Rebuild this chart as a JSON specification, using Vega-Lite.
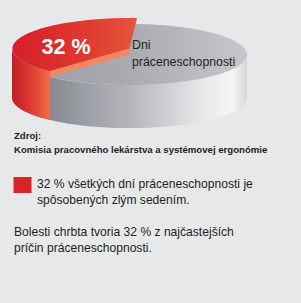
{
  "$schema": "https://vega.github.io/schema/vega-lite/v6.json",
  "width": 301,
  "height": 303,
  "padding": 0,
  "autosize": {"type": "none"},
  "background": "#e7e8e9",
  "config": {"view": {"stroke": null}, "text": {"font": "Liberation Sans, Arial, sans-serif", "align": "left", "baseline": "alphabetic", "color": "#231f20"}},
  "datasets": {
    "pie": [
      {"segment": "zlé sedenie", "share": 32, "label": "32 %"},
      {"segment": "ostatné", "share": 68, "label": "Dni práceneschopnosti"}
    ]
  },
  "layer": [
    {
      "data": {"name": "pie"},
      "transform": [{"filter": "datum.share == 68"}],
      "mark": {"type": "point", "filled": true, "opacity": 1, "strokeWidth": 0, "size": 55225,
        "shape": "M-1,0 A1,0.26 0 0 0 1,0 L1,0.366 A1,0.26 0 0 1 -1,0.366 Z",
        "fill": {"gradient": "linear", "x1": 0, "y1": 0, "x2": 1, "y2": 0,
          "stops": [{"offset": 0, "color": "#7d8088"}, {"offset": 0.16, "color": "#878a92"}, {"offset": 0.5, "color": "#b4b6bb"}, {"offset": 0.82, "color": "#e9e9eb"}, {"offset": 0.94, "color": "#f5f5f5"}, {"offset": 1, "color": "#d6d7d9"}]}},
      "encoding": {
        "x": {"datum": 129.5, "type": "quantitative", "scale": {"domain": [0, 301], "nice": false, "zero": false}, "axis": null},
        "y": {"datum": 54.5, "type": "quantitative", "scale": {"domain": [0, 303], "nice": false, "zero": false, "reverse": true}, "axis": null}
      }
    },
    {
      "data": {"name": "pie"},
      "transform": [{"filter": "datum.share == 68"}],
      "mark": {"type": "point", "filled": true, "opacity": 1, "strokeWidth": 0, "size": 55225,
        "shape": "M-1,0 A1,0.26 0 1 0 1,0 A1,0.26 0 1 0 -1,0 Z",
        "fill": {"gradient": "linear", "x1": 0, "y1": 0, "x2": 1, "y2": 0,
          "stops": [{"offset": 0, "color": "#9a9ca3"}, {"offset": 0.5, "color": "#a9abb1"}, {"offset": 1, "color": "#c6c7cb"}]}},
      "encoding": {
        "x": {"datum": 129.5, "type": "quantitative"},
        "y": {"datum": 54.5, "type": "quantitative"}
      }
    },
    {
      "data": {"name": "pie"},
      "transform": [{"filter": "datum.share == 32"}],
      "mark": {"type": "point", "filled": true, "opacity": 1, "strokeWidth": 0, "size": 55225,
        "shape": "M-1,-0.051 A1,0.26 0 0 0 -0.677,0.14 L-0.677,0.557 A1,0.26 0 0 1 -1,0.366 Z",
        "fill": {"gradient": "linear", "x1": 0, "y1": 0, "x2": 1, "y2": 0,
          "stops": [{"offset": 0, "color": "#c41e26"}, {"offset": 0.5, "color": "#dd3a33"}, {"offset": 1, "color": "#f06d48"}]}},
      "encoding": {
        "x": {"datum": 129.5, "type": "quantitative"},
        "y": {"datum": 54.5, "type": "quantitative"}
      }
    },
    {
      "data": {"name": "pie"},
      "transform": [{"filter": "datum.share == 32"}],
      "mark": {"type": "point", "filled": true, "opacity": 1, "strokeWidth": 0, "size": 55225,
        "shape": "M0,-0.051 L-0.677,0.14 L-0.677,0.191 L0,0 Z",
        "fill": "#f2875f"},
      "encoding": {
        "x": {"datum": 129.5, "type": "quantitative"},
        "y": {"datum": 54.5, "type": "quantitative"}
      }
    },
    {
      "data": {"name": "pie"},
      "transform": [{"filter": "datum.share == 32"}],
      "mark": {"type": "point", "filled": true, "opacity": 1, "strokeWidth": 0, "size": 55225,
        "shape": "M0,-0.051 L0.064,-0.31 A1,0.26 0 0 0 -0.677,0.14 Z",
        "fill": {"gradient": "linear", "x1": 0, "y1": 0, "x2": 1, "y2": 0,
          "stops": [{"offset": 0, "color": "#d61f28"}, {"offset": 0.6, "color": "#df3a31"}, {"offset": 1, "color": "#e5563c"}]}},
      "encoding": {
        "x": {"datum": 129.5, "type": "quantitative"},
        "y": {"datum": 54.5, "type": "quantitative"}
      }
    },
    {
      "data": {"name": "pie"},
      "transform": [{"filter": "datum.share == 32"}],
      "mark": {"type": "text", "fontWeight": "bold", "fontSize": 21.5, "color": "#ffffff"},
      "encoding": {
        "text": {"field": "label"},
        "x": {"datum": 41.5, "type": "quantitative"},
        "y": {"datum": 53.5, "type": "quantitative"}
      }
    },
    {
      "data": {"values": [{"text": "Dni"}]},
      "mark": {"type": "text", "fontSize": 12.3},
      "encoding": {
        "text": {"field": "text"},
        "x": {"datum": 132, "type": "quantitative"},
        "y": {"datum": 49, "type": "quantitative"}
      }
    },
    {
      "data": {"values": [{"text": "práceneschopnosti"}]},
      "mark": {"type": "text", "fontSize": 12.3},
      "encoding": {
        "text": {"field": "text"},
        "x": {"datum": 132, "type": "quantitative"},
        "y": {"datum": 65.5, "type": "quantitative"}
      }
    },
    {
      "data": {"values": [{"text": "Zdroj:"}]},
      "mark": {"type": "text", "fontWeight": "bold", "fontSize": 9.6},
      "encoding": {
        "text": {"field": "text"},
        "x": {"datum": 14, "type": "quantitative"},
        "y": {"datum": 139, "type": "quantitative"}
      }
    },
    {
      "data": {"values": [{"text": "Komisia pracovného lekárstva a systémovej ergonómie"}]},
      "mark": {"type": "text", "fontWeight": "bold", "fontSize": 9.6},
      "encoding": {
        "text": {"field": "text"},
        "x": {"datum": 14, "type": "quantitative"},
        "y": {"datum": 152.5, "type": "quantitative"}
      }
    },
    {
      "data": {"values": [{"category": "zlé sedenie"}]},
      "mark": {"type": "point", "filled": true, "opacity": 1, "strokeWidth": 0, "size": 324, "shape": "M-1,-0.89 L1,-0.89 L1,0.89 L-1,0.89 Z", "color": "#dc2229"},
      "encoding": {
        "x": {"datum": 22.5, "type": "quantitative"},
        "y": {"datum": 185, "type": "quantitative"}
      }
    },
    {
      "data": {"values": [{"text": "32 % všetkých dní práceneschopnosti je"}]},
      "mark": {"type": "text", "fontSize": 12.1},
      "encoding": {
        "text": {"field": "text"},
        "x": {"datum": 37, "type": "quantitative"},
        "y": {"datum": 187.5, "type": "quantitative"}
      }
    },
    {
      "data": {"values": [{"text": "spôsobených zlým sedením."}]},
      "mark": {"type": "text", "fontSize": 12.1},
      "encoding": {
        "text": {"field": "text"},
        "x": {"datum": 37, "type": "quantitative"},
        "y": {"datum": 203.5, "type": "quantitative"}
      }
    },
    {
      "data": {"values": [{"text": "Bolesti chrbta tvoria 32 % z najčastejších"}]},
      "mark": {"type": "text", "fontSize": 12.1},
      "encoding": {
        "text": {"field": "text"},
        "x": {"datum": 14, "type": "quantitative"},
        "y": {"datum": 235.5, "type": "quantitative"}
      }
    },
    {
      "data": {"values": [{"text": "príčin práceneschopnosti."}]},
      "mark": {"type": "text", "fontSize": 12.1},
      "encoding": {
        "text": {"field": "text"},
        "x": {"datum": 14, "type": "quantitative"},
        "y": {"datum": 251.5, "type": "quantitative"}
      }
    }
  ]
}
